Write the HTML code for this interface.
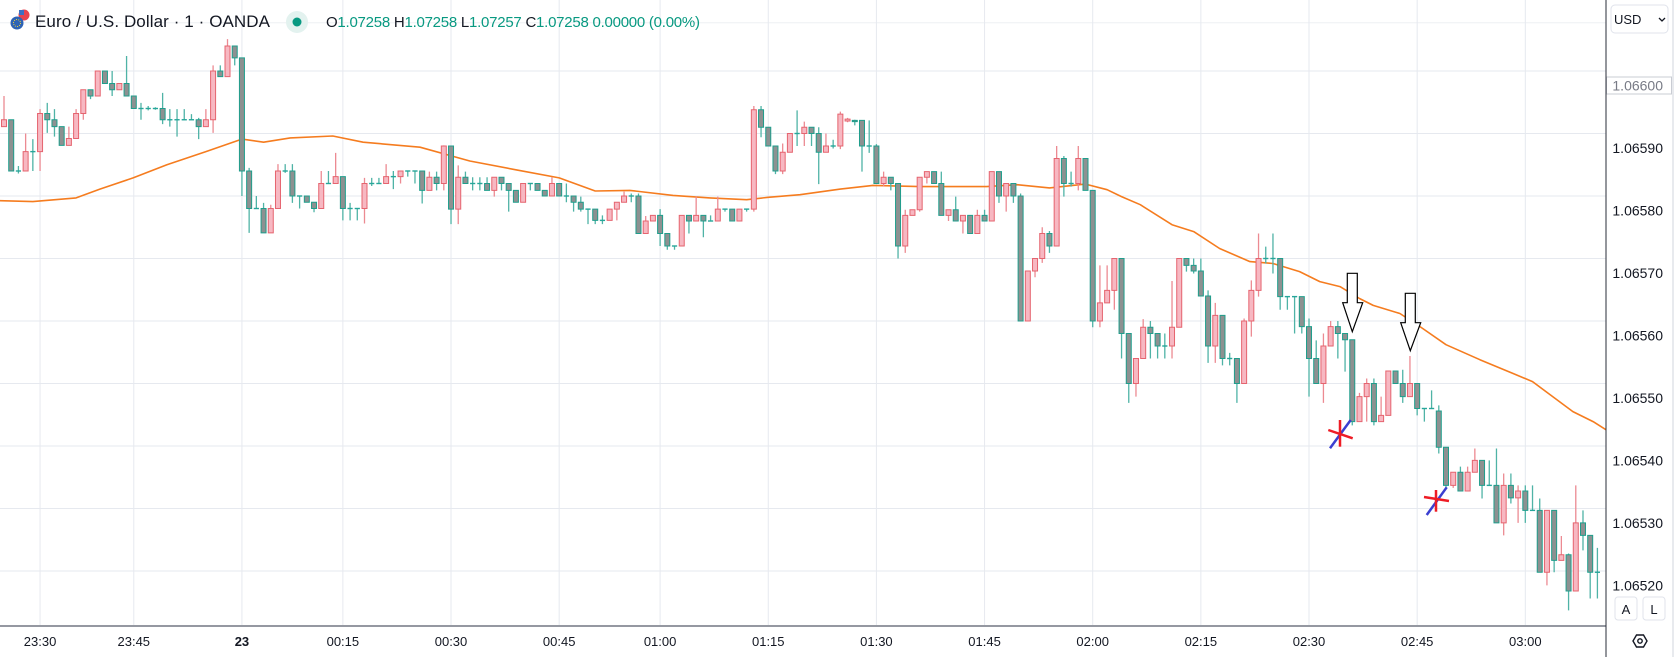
<!DOCTYPE html>
<html><head><meta charset="utf-8"><style>
html,body{margin:0;padding:0;background:#fff;}
svg{display:block;font-family:"Liberation Sans",sans-serif;}
</style></head><body>
<svg id="chart" width="1678" height="657" viewBox="0 0 1678 657" xmlns="http://www.w3.org/2000/svg">
<rect x="0" y="0" width="1678" height="657" fill="#ffffff"/>
<g id="grid"></g>
<g id="ma"></g>
<g id="candles"></g>
<g id="marks">
  <path d="M1347.3,273.3 H1357.3 V302.7 H1362.7 L1352.3,331.7 L1342.7,302.7 H1347.3 Z" fill="#fff" stroke="#000" stroke-width="1.2"/>
  <path d="M1405.3,293.3 H1415.3 V322.7 H1420.7 L1410.3,350.7 L1400.7,322.7 H1405.3 Z" fill="#fff" stroke="#000" stroke-width="1.2"/>
  <g>
    <line x1="1330" y1="448.3" x2="1350.7" y2="420" stroke="#3b3fd0" stroke-width="2.5"/>
    <line x1="1328.3" y1="430" x2="1352.7" y2="438.3" stroke="#ee1c25" stroke-width="2.5"/>
    <line x1="1340" y1="420" x2="1340" y2="446.7" stroke="#ee1c25" stroke-width="2.5"/>
  </g>
  <g>
    <line x1="1426.7" y1="515" x2="1446.7" y2="487.3" stroke="#3b3fd0" stroke-width="2.5"/>
    <line x1="1424" y1="497" x2="1449" y2="501" stroke="#ee1c25" stroke-width="2.5"/>
    <line x1="1436" y1="490" x2="1436" y2="511.7" stroke="#ee1c25" stroke-width="2.5"/>
  </g>
</g>
<g id="axes"></g>
<g>
  <circle cx="24" cy="15" r="5.5" fill="#e8434f"/>
  <rect x="19" y="10" width="5" height="5" fill="#3c6fc4"/>
  <circle cx="17" cy="23" r="6.5" fill="#2d63b5"/>
  <circle cx="17" cy="23" r="3.5" fill="none" stroke="#f5d437" stroke-width="1" stroke-dasharray="1 1.2"/>
  <text x="35" y="27" font-size="17" fill="#131722" textLength="235">Euro / U.S. Dollar · 1 · OANDA</text>
  <circle cx="297" cy="22" r="11" fill="#e3f2ef"/>
  <circle cx="297" cy="22" r="4.5" fill="#089981"/>
  <text x="326" y="27" font-size="15" fill="#089981" textLength="374"><tspan fill="#131722">O</tspan>1.07258 <tspan fill="#131722">H</tspan>1.07258 <tspan fill="#131722">L</tspan>1.07257 <tspan fill="#131722">C</tspan>1.07258 0.00000 (0.00%)</text>
</g>
<g>
  <rect x="1611" y="5" width="57" height="28" rx="4" fill="#fff" stroke="#e0e3eb"/>
  <text x="1614" y="24" font-size="13" fill="#131722">USD</text>
  <path d="M1659,18 l3,3 l3,-3" fill="none" stroke="#131722" stroke-width="1.3"/>
  <rect x="1615" y="597" width="22" height="23" rx="3" fill="#fff" stroke="#e0e3eb"/>
  <text x="1626" y="614" font-size="13" text-anchor="middle" fill="#131722">A</text>
  <rect x="1643" y="597" width="22" height="23" rx="3" fill="#fff" stroke="#e0e3eb"/>
  <text x="1654" y="614" font-size="13" text-anchor="middle" fill="#131722">L</text>
  <g>
    <path d="M1633,641 l3.5,-6 h7 l3.5,6 l-3.5,6 h-7 z" fill="none" stroke="#131722" stroke-width="1.4"/>
    <circle cx="1640" cy="641" r="2.2" fill="none" stroke="#131722" stroke-width="1.4"/>
  </g>
</g>
</svg>
<script>
const opens=[5911,5922,5840,5840,5871,5871,5932,5922,5911,5881,5892,5932,5970,5960,6000,5980,5970,5980,5960,5940,5940,5940,5940,5922,5922,5922,5922,5922,5911,5922,6000,5991,6040,6021,5840,5780,5780,5741,5780,5840,5840,5800,5800,5790,5780,5820,5820,5831,5780,5780,5780,5820,5820,5820,5831,5831,5840,5840,5840,5809,5830,5820,5880,5779,5830,5820,5820,5820,5809,5830,5820,5809,5790,5820,5820,5809,5800,5820,5800,5800,5790,5779,5779,5761,5761,5779,5790,5800,5800,5740,5760,5769,5740,5720,5720,5769,5760,5769,5760,5760,5779,5779,5760,5779,5779,5938,5910,5880,5840,5870,5900,5900,5910,5900,5870,5880,5880,5920,5921,5921,5880,5880,5820,5830,5820,5720,5769,5778,5830,5839,5820,5769,5778,5760,5769,5740,5769,5760,5839,5800,5820,5800,5600,5680,5700,5740,5720,5860,5820,5820,5860,5809,5600,5629,5649,5700,5580,5500,5540,5590,5580,5560,5560,5590,5700,5689,5680,5640,5560,5609,5540,5540,5500,5600,5649,5700,5700,5700,5639,5639,5639,5591,5540,5500,5560,5591,5580,5570,5439,5479,5500,5439,5449,5520,5500,5479,5500,5460,5460,5456,5398,5337,5358,5328,5358,5377,5337,5337,5277,5337,5317,5328,5297,5297,5198,5297,5217,5226,5168,5277,5257,5198];
const highs=[5960,5922,5848,5900,5891,5939,5949,5939,5911,5911,5939,5970,5970,6000,6000,6000,5980,6024,5960,5949,5944,5942,5965,5939,5939,5939,5931,5925,5939,6009,6009,6051,6040,6021,5845,5800,5789,5786,5851,5851,5851,5800,5800,5790,5840,5840,5869,5831,5789,5780,5829,5829,5829,5851,5840,5840,5840,5840,5840,5839,5839,5881,5880,5849,5839,5830,5830,5830,5830,5830,5820,5809,5820,5820,5820,5809,5830,5820,5820,5800,5799,5779,5779,5769,5779,5790,5807,5804,5804,5768,5769,5779,5740,5720,5769,5769,5799,5769,5769,5799,5779,5779,5779,5780,5944,5944,5910,5880,5884,5900,5937,5919,5910,5910,5900,5890,5935,5925,5922,5921,5921,5883,5839,5830,5820,5778,5778,5830,5839,5839,5839,5778,5799,5769,5769,5778,5778,5839,5839,5820,5820,5804,5680,5700,5750,5744,5880,5864,5839,5880,5860,5809,5689,5689,5700,5700,5580,5540,5603,5600,5580,5580,5664,5700,5700,5700,5700,5649,5629,5609,5549,5540,5604,5665,5740,5719,5740,5700,5639,5639,5639,5604,5569,5580,5600,5600,5580,5570,5485,5508,5508,5479,5520,5520,5522,5544,5500,5460,5489,5465,5398,5358,5367,5367,5396,5377,5377,5396,5356,5356,5337,5337,5337,5316,5297,5297,5256,5228,5337,5297,5257,5237];
const lows=[5911,5840,5836,5840,5840,5840,5901,5895,5881,5881,5892,5922,5955,5960,5980,5960,5970,5960,5940,5922,5937,5938,5915,5911,5895,5922,5922,5891,5911,5901,5991,5991,6009,5800,5741,5780,5741,5741,5780,5837,5789,5780,5790,5774,5780,5820,5820,5761,5761,5761,5756,5816,5820,5820,5811,5820,5831,5820,5788,5809,5809,5809,5755,5755,5820,5809,5809,5809,5799,5809,5775,5790,5790,5809,5809,5800,5800,5800,5790,5775,5775,5755,5755,5755,5761,5761,5790,5790,5740,5740,5760,5720,5714,5714,5720,5740,5760,5734,5760,5760,5775,5760,5760,5775,5775,5894,5880,5835,5835,5870,5880,5880,5880,5819,5870,5876,5875,5918,5913,5839,5869,5820,5815,5809,5700,5709,5769,5775,5820,5820,5769,5760,5760,5740,5740,5740,5760,5760,5789,5775,5789,5600,5600,5670,5693,5709,5720,5799,5815,5809,5809,5590,5590,5629,5618,5540,5469,5479,5540,5540,5540,5540,5540,5590,5679,5676,5640,5533,5533,5529,5529,5469,5500,5575,5639,5692,5676,5618,5618,5580,5580,5479,5500,5469,5560,5540,5519,5433,5439,5439,5433,5439,5449,5500,5469,5479,5449,5439,5460,5388,5332,5333,5328,5328,5358,5316,5337,5277,5257,5308,5277,5277,5297,5198,5177,5198,5217,5137,5168,5233,5156,5156];
const closes=[5922,5840,5840,5871,5871,5932,5922,5911,5881,5892,5932,5970,5960,6000,5980,5970,5980,5960,5940,5940,5940,5940,5922,5922,5922,5922,5922,5911,5922,6000,5991,6040,6021,5840,5780,5780,5741,5780,5840,5840,5800,5800,5790,5780,5820,5820,5831,5780,5780,5780,5820,5820,5820,5831,5831,5840,5840,5840,5809,5830,5820,5880,5779,5830,5820,5820,5820,5809,5830,5820,5809,5790,5820,5820,5809,5800,5820,5800,5800,5790,5779,5779,5761,5761,5779,5790,5800,5800,5740,5760,5769,5740,5720,5720,5769,5760,5769,5760,5760,5779,5779,5760,5779,5779,5938,5910,5880,5840,5870,5900,5900,5910,5900,5870,5880,5880,5931,5923,5919,5880,5880,5820,5830,5820,5720,5769,5778,5830,5839,5820,5769,5778,5760,5769,5740,5769,5760,5839,5800,5820,5800,5600,5680,5700,5740,5720,5860,5820,5820,5860,5809,5600,5629,5649,5700,5580,5500,5540,5590,5580,5560,5560,5590,5700,5689,5680,5640,5560,5609,5540,5540,5500,5600,5649,5700,5700,5700,5639,5639,5639,5591,5540,5500,5560,5591,5580,5570,5439,5479,5500,5439,5449,5520,5500,5479,5500,5460,5460,5460,5398,5337,5358,5328,5358,5377,5337,5337,5277,5337,5317,5328,5297,5297,5198,5297,5217,5226,5168,5277,5257,5198,5198];
// moving average samples: bar index and value
const maIndex=[-0.6,4,10,13.3,17.9,22.6,28,33,36,39.7,45.6,49.8,57.7,64.6,71,77,82,86.8,92.8,97.9,103,106,110.4,116,120.5,127,136.3,140.5,145,150,153,155,157.6,162,165,168.6,172.8,176,179.7,182.5,185.3,188,189.9,193.6,196.4,200,204.7,209.3,212,214.8,217.6,220.4,222.2];
const maValues=[5792.5,5791,5797,5811,5829,5850,5871,5891,5886,5893,5896,5886,5878,5856,5842,5829,5808,5809,5801,5797,5794,5798,5802,5811,5817,5815,5815,5818,5813,5819,5810,5799,5786,5754,5743,5716,5695,5692,5679,5663,5655,5636,5625,5612,5591,5562,5538,5516,5503,5479,5455,5439,5426];
const priceTicks=[1.06600,1.06590,1.06580,1.06570,1.06560,1.06550,1.06540,1.06530,1.06520];
const timeTickLabels=["23:30","23:45","23","00:15","00:30","00:45","01:00","01:15","01:30","01:45","02:00","02:15","02:30","02:45","03:00"];
const timeTickIndex=[5,18,33,47,62,77,91,106,121,136,151,166,181,196,211];

// values stored as price offset: 1.06 + v/1e6
function toPrice(v){return 1.06+v/1e6;}
function yScale(p){return 71+(1.066-p)*625000;}
function xScale(i){return 4+i*7.21;}
const NS="http://www.w3.org/2000/svg";
function mk(tag,attrs,parent){const e=document.createElementNS(NS,tag);for(const k in attrs)e.setAttribute(k,attrs[k]);parent.appendChild(e);return e;}

const grid=document.getElementById('grid');
const axes=document.getElementById('axes');
let hl=mk('line',{x1:0,x2:1606,y1:22.7,y2:22.7,stroke:'#eef0f4','stroke-width':1},grid);


priceTicks.forEach((p,k)=>{
  const y=yScale(p);
  const l=mk('line',{x1:0,x2:1606,y1:y,y2:y,stroke:'#e6e9ef','stroke-width':1},grid);
  
  
  if(k===0){
    const r=mk('rect',{x:1606.5,y:y+6,width:65,height:17,fill:'#fff',stroke:'#c9ccd3'},axes);
    
    
  }
  const t=mk('text',{x:1663,y:y+19.5,'font-size':14,'text-anchor':'end',fill:k===0?'#787b86':'#131722'},axes);
  t.textContent=p.toFixed(5);
  
  
});
timeTickIndex.forEach((ti,k)=>{
  const x=xScale(ti);
  const l=mk('line',{x1:x,x2:x,y1:0,y2:626,stroke:'#e6e9ef','stroke-width':1},grid);
  
  
  const t=mk('text',{x:x,y:646,'font-size':13,'text-anchor':'middle',fill:'#131722','font-weight':timeTickLabels[k]==='23'?'bold':'normal'},axes);
  t.textContent=timeTickLabels[k];
  
  
});
let ax=mk('line',{x1:0,x2:1606,y1:626,y2:626,stroke:'#9598a1','stroke-width':2},axes);


let ay=mk('line',{x1:1606,x2:1606,y1:0,y2:657,stroke:'#2a2e39','stroke-width':1},axes);


let ar=mk('line',{x1:1673,x2:1673,y1:0,y2:657,stroke:'#d1d4dc','stroke-width':1},axes);



// moving average
let pts=maIndex.map((ti,k)=>xScale(ti).toFixed(1)+','+yScale(toPrice(maValues[k])).toFixed(1)).join(' ');
let ma=mk('polyline',{points:pts,fill:'none',stroke:'#f57c1f','stroke-width':1.6,'stroke-linejoin':'round'},document.getElementById('ma'));



// candles
const cg=document.getElementById('candles');
opens.forEach((o,i)=>{
  const O=toPrice(o),H=toPrice(highs[i]),L=toPrice(lows[i]),C=toPrice(closes[i]);
  const x=xScale(i);
  const up=C>O;
  const g=mk('g',{},cg);
  
  
  const wick=up?'#ec8a92':'#4fb3a6';
  mk('line',{x1:x,x2:x,y1:yScale(H),y2:yScale(L),stroke:wick,'stroke-width':1.3},g);
  const yt=yScale(Math.max(O,C)), yb=yScale(Math.min(O,C));
  const h=yb-yt;
  if(h<1.2){
    mk('line',{x1:x-2.6,x2:x+2.6,y1:yt,y2:yt,stroke:up?'#e5646f':'#26a69a','stroke-width':1.4},g);
  } else {
    mk('rect',{x:x-2.5,y:yt,width:5,height:h,fill:up?'#f7b8c2':'#8d9191',stroke:up?'#e5646f':'#1f9e8c','stroke-width':1},g);
  }
});
</script>
</body></html>
